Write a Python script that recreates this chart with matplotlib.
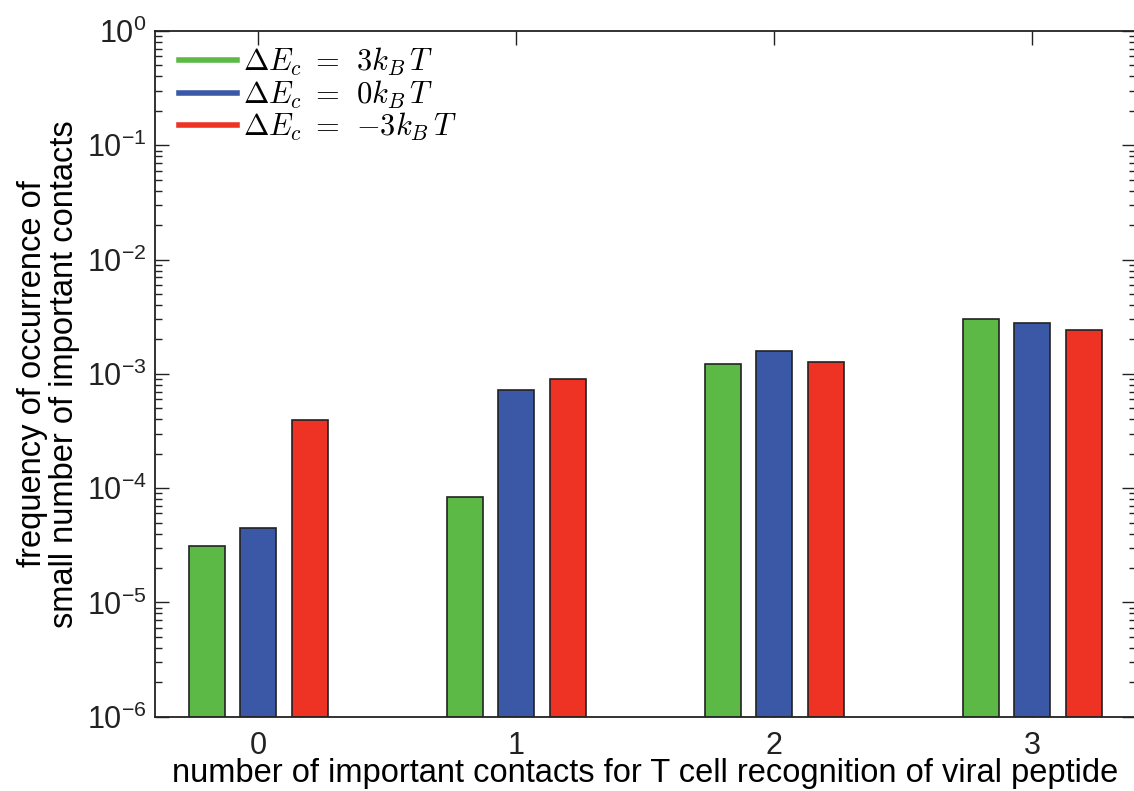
import numpy as np
import matplotlib
matplotlib.use('Agg')
import matplotlib.pyplot as plt
from matplotlib.ticker import LogLocator, NullFormatter, LogFormatterMathtext

plt.rcParams['font.family'] = ['Liberation Sans', 'DejaVu Sans']
plt.rcParams['mathtext.fontset'] = 'cm'

# data
contacts = [0, 1, 2, 3]
freq_pos3 = [3.13e-5, 8.3e-5, 1.21e-3, 3.0e-3]    # dEc = 3 kBT
freq_zero = [4.48e-5, 7.27e-4, 1.58e-3, 2.77e-3]  # dEc = 0 kBT
freq_neg3 = [3.92e-4, 9.07e-4, 1.27e-3, 2.42e-3]  # dEc = -3 kBT
labels = [r'$\Delta E_c\;=\;\,3k_B\,T$', r'$\Delta E_c\;=\;\,0k_B\,T$', r'$\Delta E_c\;=\;\,{-3}k_B\,T$']
colors = ['#5cb946', '#3a58a5', '#ee3224']

fig = plt.figure(figsize=(11.34, 7.91), dpi=100)
ax = fig.add_axes([155 / 1134, 1 - 716.7 / 791, 980.6 / 1134, 685.7 / 791])

x = np.array(contacts)
offs = [-0.2, 0.0, 0.2]
w = 0.14
for series, o, c, lab in zip([freq_pos3, freq_zero, freq_neg3], offs, colors, labels):
    ax.bar(x + o, series, width=w, color=c, edgecolor='#222222', linewidth=1.2, label=lab, zorder=2)

ax.set_yscale('log')
ax.set_ylim(1e-6, 1)
ax.set_xlim(-0.4, 3.4)
ax.set_xticks(contacts)
ax.yaxis.set_major_locator(LogLocator(base=10, numticks=10))
ax.yaxis.set_major_formatter(LogFormatterMathtext())
ax.yaxis.set_minor_locator(LogLocator(base=10, subs=np.arange(2, 10), numticks=20))
ax.yaxis.set_minor_formatter(NullFormatter())

ax.tick_params(axis='both', which='both', direction='in', top=True, right=True, labelsize=22, colors='#222222')
ax.tick_params(axis='both', which='major', length=10, width=1)
ax.tick_params(axis='y', which='minor', length=5, width=1)
ax.tick_params(axis='x', pad=10)
ax.tick_params(axis='y', pad=6)
for s in ax.spines.values():
    s.set_linewidth(1.3)
    s.set_color('#222222')

ax.set_xlabel('number of important contacts for T cell recognition of viral peptide', fontsize=23.5, labelpad=-2)
ax.set_ylabel('frequency of occurrence of\nsmall number of important contacts', fontsize=23.5, labelpad=5,
              linespacing=1.05)

handles = [plt.Line2D([0], [0], color=c, lw=4) for c in colors]
ax.legend(handles, labels, loc='upper left', frameon=False, fontsize=22,
          handlelength=1.9, handletextpad=0.2, labelspacing=0.0,
          borderaxespad=0.0, borderpad=0.3, bbox_to_anchor=(15 / 980.6, 1 - 6 / 685.7))

fig.savefig('out.png', dpi=100)
